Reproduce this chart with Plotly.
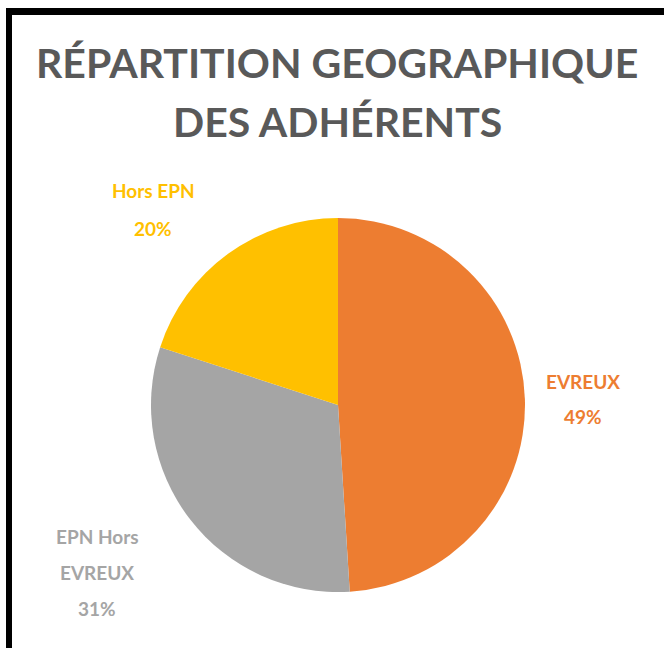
import plotly.graph_objects as go

labels = ["EVREUX", "EPN Hors EVREUX", "Hors EPN"]
label_lines = [["EVREUX"], ["EPN Hors", "EVREUX"], ["Hors EPN"]]
values = [49, 31, 20]
colors = ["#ED7D31", "#A5A5A5", "#FFC000"]
title_lines = ["RÉPARTITION GEOGRAPHIQUE", "DES ADHÉRENTS"]

W, H = 664, 648
FONT = "Lato"

def px(x):
    return x / W

def py(y):
    return 1 - y / H

fig = go.Figure()
cx, cy, r = 338, 405, 187
fig.add_trace(go.Pie(
    labels=labels, values=values, sort=False, direction="clockwise", rotation=0,
    marker=dict(colors=colors, line=dict(width=0)),
    textinfo="none", hoverinfo="label+percent", showlegend=False,
    domain=dict(x=[px(cx - r), px(cx + r)], y=[py(cy + r), py(cy - r)]),
))

annotations = []
# title
for t, yc in zip(title_lines, [63, 121]):
    annotations.append(dict(text=f"<b>{t}</b>", x=px(337), y=py(yc), xref="paper", yref="paper",
                            showarrow=False, xanchor="center", yanchor="middle",
                            font=dict(family=FONT, size=41, color="#595959")))

# data labels: (center x, first-line y, line step)
label_pos = [(583, 382, 34), (97, 536, 36), (153, 191, 37)]
total = sum(values)
for lines, v, col, (lx, ly, step) in zip(label_lines, values, colors, label_pos):
    texts = lines + [f"{round(100 * v / total)}%"]
    for j, t in enumerate(texts):
        annotations.append(dict(text=f"<b>{t}</b>", x=px(lx), y=py(ly + j * step), xref="paper", yref="paper",
                                showarrow=False, xanchor="center", yanchor="middle",
                                font=dict(family=FONT, size=19, color=col)))

shapes = [
    dict(type="rect", xref="paper", yref="paper", x0=px(6), x1=1.0, y0=py(15), y1=py(8),
         fillcolor="black", line=dict(width=0), layer="above"),
    dict(type="rect", xref="paper", yref="paper", x0=px(6), x1=px(12), y0=0, y1=py(8),
         fillcolor="black", line=dict(width=0), layer="above"),
]

fig.update_layout(
    width=W, height=H, margin=dict(l=0, r=0, t=0, b=0),
    paper_bgcolor="white", plot_bgcolor="white",
    annotations=annotations, shapes=shapes,
)
fig.write_html("out.html", config={"displayModeBar": False},
               post_script="document.body.style.margin='0';document.body.style.overflow='hidden';")
